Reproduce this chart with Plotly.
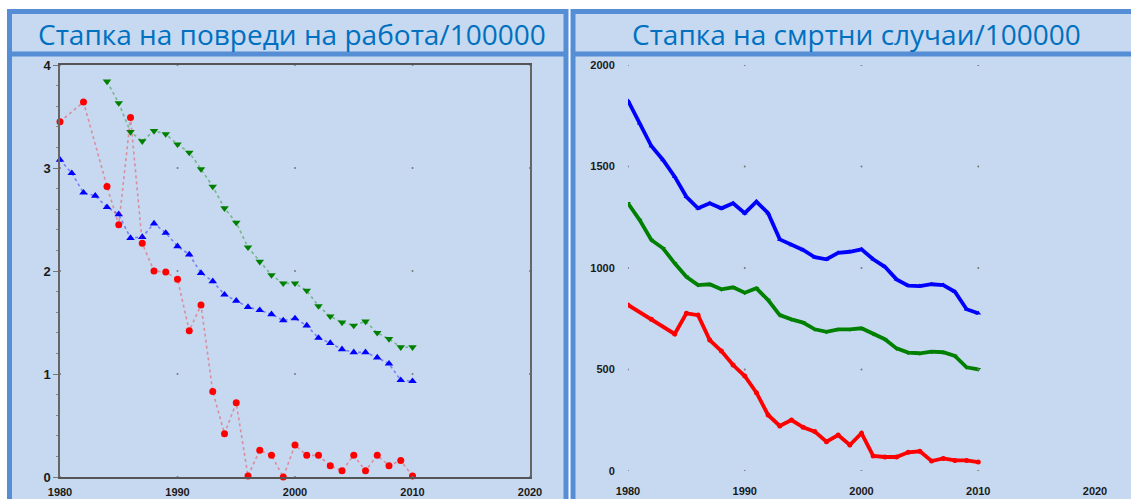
import plotly.graph_objects as go

# ---------------- data ----------------
# Left chart: injury rate / 100000
blue_inj_years = list(range(1980, 2011))
blue_inj = [3.08, 2.95, 2.76, 2.73, 2.62, 2.55, 2.32, 2.33, 2.46, 2.37, 2.24, 2.16, 1.98, 1.90,
            1.77, 1.71, 1.65, 1.62, 1.58, 1.52, 1.54, 1.47, 1.35, 1.30, 1.24, 1.21, 1.21, 1.16,
            1.10, 0.94, 0.93]
green_inj_years = list(range(1984, 2011))
green_inj = [3.84, 3.63, 3.35, 3.26, 3.36, 3.33, 3.23, 3.15, 2.99, 2.82, 2.61, 2.47, 2.23, 2.09,
             1.96, 1.88, 1.88, 1.81, 1.66, 1.56, 1.50, 1.47, 1.51, 1.40, 1.34, 1.26, 1.26]
red_inj_years = [1980, 1982, 1984, 1985, 1986, 1987] + list(range(1988, 2011))
red_inj = [3.45, 3.64, 2.82, 2.45, 3.49, 2.27, 2.00, 1.99, 1.92, 1.42, 1.67, 0.83, 0.42, 0.72,
           0.01, 0.26, 0.21, 0.00, 0.31, 0.21, 0.21, 0.11, 0.06, 0.21, 0.06, 0.21, 0.11, 0.16, 0.01]

# Right chart: fatality rate / 100000
years_fat = list(range(1980, 2011))
blue_fat = [1824, 1713, 1601, 1532, 1450, 1351, 1294, 1319, 1294, 1319, 1270, 1327, 1270, 1141,
            1113, 1089, 1053, 1043, 1075, 1080, 1092, 1043, 1006, 944, 913, 911, 920, 916, 883,
            797, 777]
green_fat = [1319, 1236, 1138, 1097, 1023, 957, 916, 920, 895, 905, 878, 900, 842, 768, 747, 731,
             698, 686, 698, 698, 703, 675, 649, 604, 583, 580, 588, 585, 567, 511, 501]
red_fat_years = [1980, 1982, 1984] + list(range(1985, 2011))
red_fat = [818, 747, 675, 777, 768, 645, 591, 522, 468, 386, 276, 222, 251, 215, 194, 144, 177,
           128, 186, 74, 69, 69, 92, 97, 49, 62, 52, 52, 44]

left_xticks = [1980, 1990, 2000, 2010, 2020]
left_yticks = [0, 1, 2, 3, 4]
right_xticks = [1980, 1990, 2000, 2010, 2020]
right_yticks = [0, 500, 1000, 1500, 2000]

title_left = "Стапка на повреди на работа/100000"
title_right = "Стапка на смртни случаи/100000"

# ---------------- layout helpers ----------------
W, H = 1131, 499
def px(x):
    return x / W
def py(y):
    return 1 - y / H

BORDER = "#558ed5"
FILL = "#c6d9f1"
TITLE_COLOR = "#0070c0"

fig = go.Figure()

# left chart traces
dotted = dict(dash="dot", width=1.6)
fig.add_trace(go.Scatter(x=green_inj_years, y=green_inj, mode="lines+markers",
                         line=dict(color="rgba(0,128,0,0.4)", **dotted),
                         marker=dict(symbol="triangle-down", size=7.5, color="#008000"),
                         xaxis="x", yaxis="y", showlegend=False, cliponaxis=False))
fig.add_trace(go.Scatter(x=blue_inj_years, y=blue_inj, mode="lines+markers",
                         line=dict(color="rgba(0,0,255,0.4)", **dotted),
                         marker=dict(symbol="triangle-up", size=7.5, color="#0000ff"),
                         xaxis="x", yaxis="y", showlegend=False, cliponaxis=False))
fig.add_trace(go.Scatter(x=red_inj_years, y=red_inj, mode="lines+markers",
                         line=dict(color="rgba(255,0,0,0.35)", **dotted),
                         marker=dict(symbol="circle", size=7, color="#ff0000"),
                         xaxis="x", yaxis="y", showlegend=False, cliponaxis=False))

# grid intersection dots
gx, gy = [], []
for xv in left_xticks:
    for yv in left_yticks:
        gx.append(xv); gy.append(yv)
fig.add_trace(go.Scatter(x=gx, y=gy, mode="markers", marker=dict(size=2, color="#777"),
                         xaxis="x", yaxis="y", showlegend=False, hoverinfo="skip"))

# right chart traces
fig.add_trace(go.Scatter(x=years_fat, y=blue_fat, mode="lines+markers",
                         line=dict(color="#0000ff", width=3.8),
                         marker=dict(symbol="triangle-up", size=5, color="#0000ff"),
                         xaxis="x2", yaxis="y2", showlegend=False))
fig.add_trace(go.Scatter(x=years_fat, y=green_fat, mode="lines+markers",
                         line=dict(color="#008000", width=3.8),
                         marker=dict(symbol="triangle-down", size=5, color="#008000"),
                         xaxis="x2", yaxis="y2", showlegend=False))
fig.add_trace(go.Scatter(x=red_fat_years, y=red_fat, mode="lines+markers",
                         line=dict(color="#ff0000", width=3.8),
                         marker=dict(symbol="circle", size=5, color="#ff0000"),
                         xaxis="x2", yaxis="y2", showlegend=False))
gx2, gy2 = [], []
for xv in right_xticks[:-1]:
    for yv in right_yticks:
        gx2.append(xv); gy2.append(yv)
fig.add_trace(go.Scatter(x=gx2, y=gy2, mode="markers", marker=dict(size=2, color="#777"),
                         xaxis="x2", yaxis="y2", showlegend=False, hoverinfo="skip"))

tickfont = dict(family="Liberation Sans Narrow, Liberation Sans, Arial, sans-serif",
                size=11, color="#1a1a1a", weight="bold")
tickfont_y = dict(tickfont, size=13)

shapes = [
    # left panel
    dict(type="rect", xref="paper", yref="paper", x0=px(9.5), x1=px(566), y0=py(560), y1=py(11.5),
         fillcolor=FILL, line=dict(color=BORDER, width=5), layer="below"),
    dict(type="line", xref="paper", yref="paper", x0=px(9.5), x1=px(566), y0=py(54), y1=py(54),
         line=dict(color=BORDER, width=5), layer="below"),
    # right panel
    dict(type="rect", xref="paper", yref="paper", x0=px(573), x1=px(1160), y0=py(560), y1=py(11.5),
         fillcolor=FILL, line=dict(color=BORDER, width=5), layer="below"),
    dict(type="line", xref="paper", yref="paper", x0=px(573), x1=px(1160), y0=py(54), y1=py(54),
         line=dict(color=BORDER, width=5), layer="below"),
]

annotations = [
    dict(text=title_left, x=px(292), y=py(34), xref="paper", yref="paper", showarrow=False,
         xanchor="center", yanchor="middle",
         font=dict(family="Open Sans, sans-serif", size=28, color=TITLE_COLOR)),
    dict(text=title_right, x=px(856), y=py(34), xref="paper", yref="paper", showarrow=False,
         xanchor="center", yanchor="middle",
         font=dict(family="Open Sans, sans-serif", size=28, color=TITLE_COLOR)),
]

fig.update_layout(
    template="none",
    width=W, height=H,
    margin=dict(l=0, r=0, t=0, b=0, pad=0, autoexpand=False),
    paper_bgcolor="white",
    plot_bgcolor="rgba(0,0,0,0)",
    showlegend=False,
    shapes=shapes,
    annotations=annotations,
    xaxis=dict(domain=[px(60), px(530)], range=[1980, 2020], anchor="y", automargin=False,
               tickvals=left_xticks, ticktext=[str(v) for v in left_xticks],
               showgrid=False, zeroline=False, showline=True, mirror=True,
               linecolor="#555", linewidth=2, ticks="outside", ticklen=4,
               tickcolor="rgba(0,0,0,0)", tickfont=tickfont),
    yaxis=dict(domain=[py(477), py(65)], range=[0, 4], anchor="x", automargin=False,
               tickvals=left_yticks, ticktext=[str(v) for v in left_yticks],
               showgrid=False, zeroline=False, showline=True, mirror=True,
               linecolor="#666", linewidth=1.5, ticks="outside", ticklen=5, tickcolor="#777",
               minor=dict(dtick=0.2, ticks="outside", ticklen=2, tickcolor="#888"),
               tickfont=tickfont_y),
    xaxis2=dict(domain=[px(628), px(1095)], range=[1980, 2020], anchor="y2", automargin=False,
                tickvals=right_xticks, ticktext=[str(v) for v in right_xticks],
                showgrid=False, zeroline=False, showline=False,
                ticks="outside", ticklen=10, tickcolor="rgba(0,0,0,0)",
                tickfont=tickfont),
    yaxis2=dict(domain=[py(471), py(65)], range=[0, 2000], anchor="x2", automargin=False,
                tickvals=right_yticks, ticktext=[str(v) for v in right_yticks],
                showgrid=False, zeroline=False, showline=False,
                ticks="outside", ticklen=10, tickcolor="rgba(0,0,0,0)",
                tickfont=tickfont),
)

fig.write_html("out.html", config={"displayModeBar": False},
               post_script="document.body.style.margin='0';document.body.style.overflow='hidden';")
